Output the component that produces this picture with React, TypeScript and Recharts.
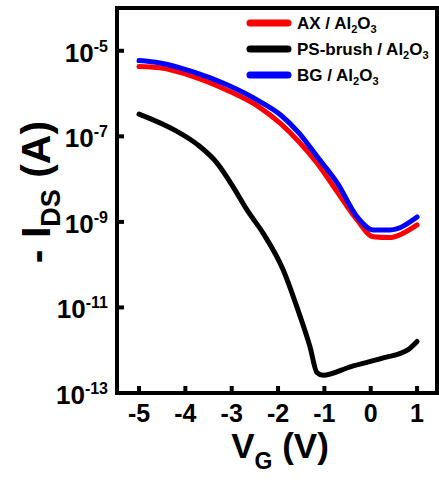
import React from "react";
import { LineChart, Line, XAxis, YAxis, ReferenceArea, Legend } from "recharts";

// gate voltage (V) and drain current (A)
const axVg = [-5, -4.55, -3.83, -3.1, -2.39, -1.95, -1.55, -1.16, -0.72, -0.29, 0.05, 0.42, 0.63, 1.0];
const axIds = [4.3e-6, 4.0e-6, 2.5e-6, 1.2e-6, 4.7e-7, 2.0e-7, 7.5e-8, 2.4e-8, 5.0e-9, 1.1e-9, 4.5e-10, 4.3e-10, 5.0e-10, 8.5e-10];

const psVg = [-5, -4.18, -3.73, -3.32, -2.97, -2.67, -2.32, -1.89, -1.59, -1.31, -1.16, -1.03, -0.44, 0.27, 0.79, 1.0];
const psIds = [3.3e-7, 1.3e-7, 6.3e-8, 2.4e-8, 6.6e-9, 1.9e-9, 5.4e-10, 7.6e-11, 1.0e-11, 1.2e-12, 3.0e-13, 2.6e-13, 4.1e-13, 6.6e-13, 1.0e-12, 1.6e-12];

const bgVg = [-5, -4.55, -3.83, -3.1, -2.39, -1.95, -1.55, -1.16, -0.72, -0.29, 0.05, 0.42, 1.0];
const bgIds = [5.9e-6, 5.2e-6, 3.2e-6, 1.6e-6, 6.5e-7, 3.2e-7, 1.2e-7, 3.4e-8, 8.1e-9, 1.3e-9, 6.5e-10, 6.5e-10, 1.3e-9];

const xTicks = [-5, -4, -3, -2, -1, 0, 1];
const yTicks = [1e-13, 1e-11, 1e-9, 1e-7, 1e-5];
const xDomain = [-5.475, 1.43];
const yDomain = [1e-13, 1e-4];

const series = [
  { key: "ax", name: "AX", color: "#ff0000", vg: axVg, ids: axIds },
  { key: "ps", name: "PS-brush", color: "#000000", vg: psVg, ids: psIds },
  { key: "bg", name: "BG", color: "#0000ff", vg: bgVg, ids: bgIds },
];

const toRows = (vg: number[], ids: number[]) => vg.map((v, i) => ({ vg: v, ids: ids[i] }));

const FONT = "'Liberation Sans', Arial, Helvetica, sans-serif";

const XTick = (props: any) => {
  const { x, y, payload } = props;
  return (
    <g>
      <line x1={x} x2={x} y1={y} y2={y - 7} stroke="#000" strokeWidth={4} />
      <text x={x} y={y + 29} textAnchor="middle" fontFamily={FONT} fontWeight="bold" fontSize={25} fill="#000">
        {String(payload.value)}
      </text>
    </g>
  );
};

const YTick = (props: any) => {
  const { x, y, payload } = props;
  const exp = Math.round(Math.log10(payload.value));
  return (
    <g>
      <line x1={x} x2={x + 7} y1={y} y2={y} stroke="#000" strokeWidth={4} />
      <text x={x - 9} y={y + 11} textAnchor="end" fontFamily={FONT} fontWeight="bold" fontSize={26} fill="#000">
        10
        <tspan fontSize={16} dy={-10}>{String(exp)}</tspan>
      </text>
    </g>
  );
};

const LegendBox = () => (
  <svg width={195} height={90}>
    {series.map((s, i) => {
      const cy = 15 + i * 26;
      return (
        <g key={s.key}>
          <line x1={8} x2={46} y1={cy} y2={cy} stroke={s.color} strokeWidth={7} strokeLinecap="round" />
          <text x={55} y={cy + 6} fontFamily={FONT} fontWeight="bold" fontSize={17} fill="#000">
            {s.name} / Al
            <tspan fontSize={11} dy={4}>2</tspan>
            <tspan dy={-4}>O</tspan>
            <tspan fontSize={11} dy={4}>3</tspan>
          </text>
        </g>
      );
    })}
  </svg>
);

export default function App() {
  return (
    <div style={{ position: "absolute", left: 0, top: 0, background: "#fff" }}>
      <LineChart width={439} height={481} margin={{ top: 8, right: 2, bottom: 0, left: 0 }}>
        <XAxis
          dataKey="vg"
          type="number"
          domain={xDomain}
          ticks={xTicks}
          allowDataOverflow
          axisLine={false}
          tickLine={false}
          tickSize={0}
          tickMargin={0}
          height={88}
          tick={<XTick />}
          interval={0}
          label={{
            content: () => (
              <text x={280} y={458} textAnchor="middle" fontFamily={FONT} fontWeight="bold" fontSize={35} fill="#000">
                V<tspan fontSize={23} dy={11}>G</tspan>
                <tspan dy={-11}> (V)</tspan>
              </text>
            ),
          }}
        />
        <YAxis
          type="number"
          scale="log"
          domain={yDomain}
          ticks={yTicks}
          allowDataOverflow
          axisLine={false}
          tickLine={false}
          tickSize={0}
          tickMargin={0}
          width={117}
          tick={<YTick />}
          interval={0}
          label={{
            content: () => (
              <text
                x={50}
                y={192}
                transform="rotate(-90 50 192)"
                textAnchor="middle"
                fontFamily={FONT}
                fontWeight="bold"
                fontSize={41}
                fill="#000"
              >
                - I<tspan fontSize={27} dy={10}>DS</tspan>
                <tspan dy={-10}> (A)</tspan>
              </text>
            ),
          }}
        />
        <ReferenceArea
          x1={xDomain[0]}
          x2={xDomain[1]}
          y1={yDomain[0]}
          y2={yDomain[1]}
          fill="none"
          stroke="#000"
          strokeWidth={4}
          ifOverflow="visible"
        />
        {series.map((s) => (
          <Line
            key={s.key}
            data={toRows(s.vg, s.ids)}
            dataKey="ids"
            name={s.name}
            type="monotone"
            stroke={s.color}
            strokeWidth={5}
            strokeLinecap="round"
            strokeLinejoin="round"
            dot={false}
            isAnimationActive={false}
          />
        ))}
        <Legend
          layout="vertical"
          align="center"
          verticalAlign="middle"
          content={() => <LegendBox />}
          wrapperStyle={{ left: 242, top: 8, width: 195, height: 90 }}
        />
      </LineChart>
    </div>
  );
}
